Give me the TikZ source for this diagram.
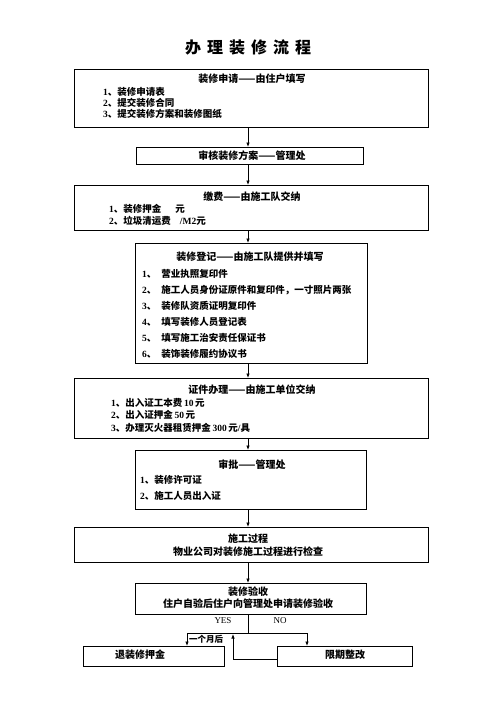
\documentclass[tikz,border=0pt]{standalone}
\usepackage{fontspec}
\setmainfont{Liberation Serif}
\newfontfamily\cjk{Noto Sans CJK SC}
\usetikzlibrary{arrows.meta}
\newcommand\dg[1]{{\rmfamily\bfseries #1}}
\begin{document}
\begin{tikzpicture}[x=1pt,y=-1pt,
  box/.style={draw,line width=0.8pt,inner sep=0pt,anchor=north west},
  tx/.style={font=\cjk\bfseries\fontsize{9.5}{11}\selectfont,inner sep=0pt},
  hd/.style={font=\cjk\bfseries\fontsize{10}{12}\selectfont,inner sep=0pt},
  lat/.style={font=\rmfamily\fontsize{9}{11}\selectfont,inner sep=0pt},
  arr/.style={line width=0.7pt,-{Latex[length=4.5pt,width=3.5pt]}},
  ln/.style={line width=0.7pt}]
\useasboundingbox (0,0) rectangle (496,702);
% title
\node[font=\cjk\bfseries\fontsize{16}{18}\selectfont,inner sep=0pt] (title) at (248,47)
  {办\hspace{6pt}理\hspace{6pt}装\hspace{6pt}修\hspace{6pt}流\hspace{6pt}程};
% axis for vertical connectors
\coordinate (ax) at (248,0);
% box 1
\node[box,minimum width=354,minimum height=58] (b1) at (74,69) {};
\node[hd] (t1) at (252,79) {装修申请——由住户填写};
\node[tx,anchor=west] (t1a) at (103,92) {\dg{1}、装修申请表};
\node[tx,anchor=west] (t1b) at (103,103) {\dg{2}、提交装修合同};
\node[tx,anchor=west] (t1c) at (103,114) {\dg{3}、提交装修方案和装修图纸};
% box 2
\node[box,minimum width=227,minimum height=17] (b2) at (136,147) {};
\node[hd] (t2) at (252,156) {审核装修方案——管理处};
% box 3
\node[box,minimum width=354,minimum height=45] (b3) at (74,185) {};
\node[hd] (t3) at (252,197) {缴费——由施工队交纳};
\node[tx,anchor=west] (t3a) at (109,209) {\dg{1}、装修押金\hspace{14pt}元};
\node[tx,anchor=west] (t3b) at (109,221) {\dg{2}、垃圾清运费\hspace{9pt}\dg{/M2}元};
% box 4
\node[box,minimum width=232,minimum height=120] (b4) at (135,243) {};
\node[hd] (t4) at (250,257) {装修登记——由施工队提供并填写};
\node[tx,anchor=west] (t4a) at (142,274) {\dg{1}、\hspace{5pt}营业执照复印件};
\node[tx,anchor=west] (t4b) at (142,290) {\dg{2}、\hspace{5pt}施工人员身份证原件和复印件，一寸照片两张};
\node[tx,anchor=west] (t4c) at (142,306) {\dg{3}、\hspace{5pt}装修队资质证明复印件};
\node[tx,anchor=west] (t4d) at (142,322) {\dg{4}、\hspace{5pt}填写装修人员登记表};
\node[tx,anchor=west] (t4e) at (142,338) {\dg{5}、\hspace{5pt}填写施工治安责任保证书};
\node[tx,anchor=west] (t4f) at (142,354) {\dg{6}、\hspace{5pt}装饰装修履约协议书};
% box 5
\node[box,minimum width=354,minimum height=60] (b5) at (74,378) {};
\node[hd] (t5) at (252,390) {证件办理——由施工单位交纳};
\node[tx,anchor=west] (t5a) at (111,403) {\dg{1}、出入证工本费\,\dg{10}\,元};
\node[tx,anchor=west] (t5b) at (111,415) {\dg{2}、出入证押金\,\dg{50}\,元};
\node[tx,anchor=west] (t5c) at (111,428) {\dg{3}、办理灭火器租赁押金\,\dg{300}\,元\dg{/}具};
% box 6
\node[box,minimum width=231,minimum height=59] (b6) at (135,450) {};
\node[hd] (t6) at (252,465) {审批——管理处};
\node[tx,anchor=west] (t6a) at (140,480) {\dg{1}、装修许可证};
\node[tx,anchor=west] (t6b) at (140,496) {\dg{2}、施工人员出入证};
% box 7
\node[box,minimum width=354,minimum height=35] (b7) at (74,527) {};
\node[hd] (t7a) at (248,539) {施工过程};
\node[hd] (t7b) at (248,552) {物业公司对装修施工过程进行检查};
% box 8
\node[box,minimum width=231,minimum height=31] (b8) at (135,583) {};
\node[hd] (t8a) at (248,592) {装修验收};
\node[hd] (t8b) at (248,604) {住户自验后住户向管理处申请装修验收};
% box 9, 10
\node[box,minimum width=141,minimum height=20] (b9) at (83,646) {};
\node[hd] (t9) at (140,655) {退装修押金};
\node[box,minimum width=135,minimum height=20] (b10) at (277,646) {};
\node[hd] (t10) at (345,655) {限期整改};
% vertical connectors
\draw[arr] (b1.south -| ax) -- (b2.north -| ax);
\draw[arr] (b2.south -| ax) -- (b3.north -| ax);
\draw[arr] (b3.south -| ax) -- (b4.north -| ax);
\draw[arr] (b4.south -| ax) -- (b5.north -| ax);
\draw[arr] (b5.south -| ax) -- (b6.north -| ax);
\draw[arr] (b6.south -| ax) -- (b7.north -| ax);
\draw[arr] (b7.south -| ax) -- (b8.north -| ax);
% decision branch
\coordinate (j) at (248,633);
\coordinate (lx) at (187,0);
\coordinate (rx) at (307,0);
\coordinate (rt) at (233,634);
\draw[ln] (b8.south -| ax) -- (j);
\draw[arr] (j) -| (b9.north -| lx);
\draw[arr] (j) -| (b10.north -| rx);
\draw[arr] ([yshift=-3pt]b10.west) -| (rt);
\node[lat] (yes) at (223,621) {YES};
\node[lat] (no) at (280,621) {NO};
\node[font=\cjk\bfseries\fontsize{8.5}{10}\selectfont,inner sep=0pt] (m) at (206,639) {一个月后};
\end{tikzpicture}
\end{document}
